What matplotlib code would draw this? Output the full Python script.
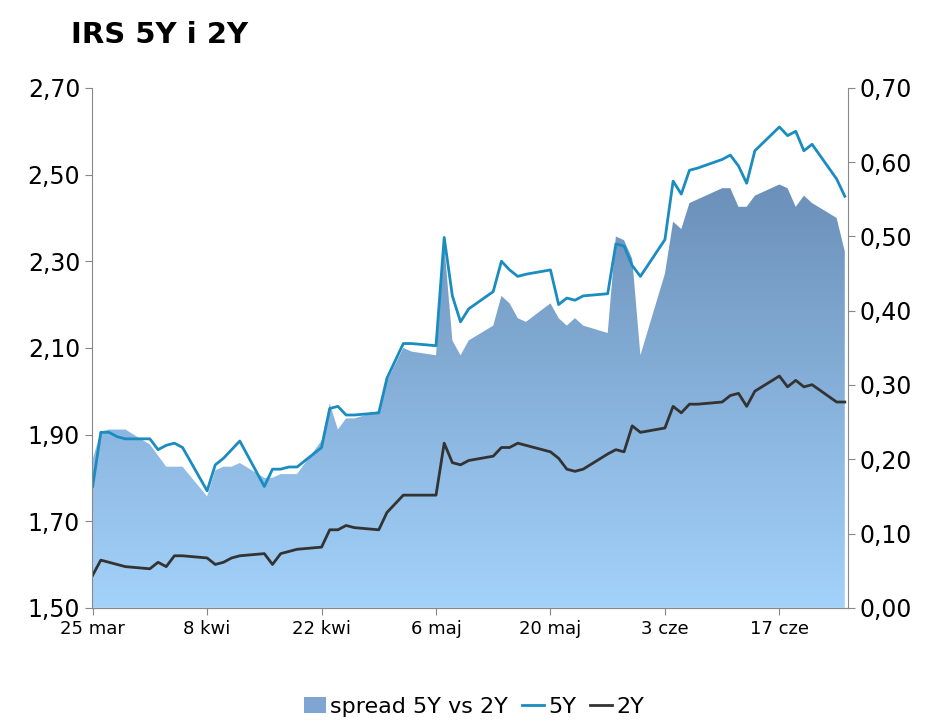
import matplotlib
matplotlib.use("Agg")
import matplotlib.pyplot as plt
import matplotlib.dates as mdates
import numpy as np
import pandas as pd
from matplotlib.patches import Patch
from matplotlib.lines import Line2D
from matplotlib.colors import LinearSegmentedColormap

dates = ["2019-03-25","2019-03-26","2019-03-27","2019-03-28","2019-03-29",
 "2019-04-01","2019-04-02","2019-04-03","2019-04-04","2019-04-05",
 "2019-04-08","2019-04-09","2019-04-10","2019-04-11","2019-04-12",
 "2019-04-15","2019-04-16","2019-04-17","2019-04-18","2019-04-19",
 "2019-04-22","2019-04-23","2019-04-24","2019-04-25","2019-04-26",
 "2019-04-29","2019-04-30","2019-05-02","2019-05-03",
 "2019-05-06","2019-05-07","2019-05-08","2019-05-09","2019-05-10",
 "2019-05-13","2019-05-14","2019-05-15","2019-05-16","2019-05-17",
 "2019-05-20","2019-05-21","2019-05-22","2019-05-23","2019-05-24",
 "2019-05-27","2019-05-28","2019-05-29","2019-05-30","2019-05-31",
 "2019-06-03","2019-06-04","2019-06-05","2019-06-06","2019-06-07",
 "2019-06-10","2019-06-11","2019-06-12","2019-06-13","2019-06-14",
 "2019-06-17","2019-06-18","2019-06-19","2019-06-20","2019-06-21",
 "2019-06-24","2019-06-25"]
irs5y = [1.78,1.905,1.905,1.895,1.89,
 1.89,1.865,1.875,1.88,1.87,
 1.77,1.83,1.845,1.865,1.885,
 1.78,1.82,1.82,1.825,1.825,
 1.87,1.96,1.965,1.945,1.945,
 1.95,2.03,2.11,2.11,
 2.105,2.355,2.22,2.16,2.19,
 2.23,2.30,2.28,2.265,2.27,
 2.28,2.20,2.215,2.21,2.22,
 2.225,2.34,2.335,2.29,2.265,
 2.35,2.485,2.455,2.51,2.515,
 2.535,2.545,2.52,2.48,2.555,
 2.61,2.59,2.60,2.555,2.57,
 2.49,2.45]
irs2y = [1.575,1.61,1.605,1.60,1.595,
 1.59,1.605,1.595,1.62,1.62,
 1.615,1.60,1.605,1.615,1.62,
 1.625,1.60,1.625,1.63,1.635,
 1.64,1.68,1.68,1.69,1.685,
 1.68,1.72,1.76,1.76,
 1.76,1.88,1.835,1.83,1.84,
 1.85,1.87,1.87,1.88,1.875,
 1.86,1.845,1.82,1.815,1.82,
 1.855,1.865,1.86,1.92,1.905,
 1.915,1.965,1.95,1.97,1.97,
 1.975,1.99,1.995,1.965,2.00,
 2.035,2.01,2.025,2.01,2.015,
 1.975,1.975]
spread = [0.20,0.237,0.24,0.24,0.24,
 0.22,0.205,0.19,0.19,0.19,
 0.15,0.185,0.19,0.19,0.195,
 0.175,0.175,0.18,0.18,0.18,
 0.225,0.275,0.24,0.255,0.255,
 0.265,0.305,0.35,0.345,
 0.34,0.49,0.36,0.34,0.36,
 0.38,0.42,0.41,0.39,0.385,
 0.41,0.39,0.38,0.39,0.38,
 0.37,0.50,0.495,0.47,0.34,
 0.45,0.52,0.51,0.545,0.55,
 0.565,0.565,0.54,0.54,0.555,
 0.57,0.565,0.54,0.555,0.545,
 0.525,0.48]
tick_dates = ["2019-03-25","2019-04-08","2019-04-22","2019-05-06","2019-05-20","2019-06-03","2019-06-17"]
tick_labels = ["25 mar","8 kwi","22 kwi","6 maj","20 maj","3 cze","17 cze"]

x = mdates.date2num(pd.to_datetime(dates))
fig = plt.figure(figsize=(9.48,7.27), dpi=100)
ax = fig.add_axes([0.097,0.164,0.797,0.715])
ax2 = ax.twinx()
ax.set_zorder(ax2.get_zorder()+1)
ax.patch.set_visible(False)

x0 = mdates.date2num(pd.Timestamp("2019-03-24 22:00"))
x1 = mdates.date2num(pd.Timestamp("2019-06-25 08:00"))
ax.set_xlim(x0,x1); ax2.set_xlim(x0,x1)
ax.set_ylim(1.5,2.7); ax2.set_ylim(0,0.7)

poly = ax2.fill_between(x, 0, spread, color="none", lw=0)
grad = np.linspace(0,1,256).reshape(-1,1)
cm = LinearSegmentedColormap.from_list("g", ["#a3d2fb", "#6a8fb8"])
im = ax2.imshow(grad, cmap=cm, aspect="auto", extent=[x[0], x[-1], 0, 0.58], origin="lower", zorder=1)
im.set_clip_path(poly.get_paths()[0], transform=ax2.transData)
ax2.set_ylim(0,0.7)

ax.plot(x, irs5y, color="#1a8cc0", lw=2)
ax.plot(x, irs2y, color="#333333", lw=2)

ax.set_yticks(np.arange(1.5,2.71,0.2))
ax.set_yticklabels([f"{v:.2f}".replace(".",",") for v in np.arange(1.5,2.71,0.2)], fontsize=17)
ax2.set_yticks(np.arange(0,0.71,0.1))
ax2.set_yticklabels([f"{v:.2f}".replace(".",",") for v in np.arange(0,0.71,0.1)], fontsize=17)
ax.set_xticks(mdates.date2num(pd.to_datetime(tick_dates)))
ax.set_xticklabels(tick_labels, fontsize=13)
for a in (ax, ax2):
    a.spines["top"].set_visible(False)
    for s in ("left","right","bottom"):
        a.spines[s].set_color("#888888")
    a.tick_params(colors="#888888", labelcolor="black", length=5)
ax.spines["right"].set_visible(False)
ax2.spines["left"].set_visible(False)

fig.text(0.075,0.952,"IRS 5Y i 2Y", fontsize=21, fontweight="bold", va="center")
handles = [Patch(facecolor="#7fa6d2"), Line2D([],[],color="#1a8cc0",lw=2), Line2D([],[],color="#333333",lw=2)]
fig.legend(handles, ["spread 5Y vs 2Y","5Y","2Y"], loc="center", bbox_to_anchor=(0.5,0.028), ncol=3,
           frameon=False, fontsize=16, handlelength=1.0, columnspacing=0.6, handletextpad=0.2)
fig.savefig("out.png", dpi=100)
